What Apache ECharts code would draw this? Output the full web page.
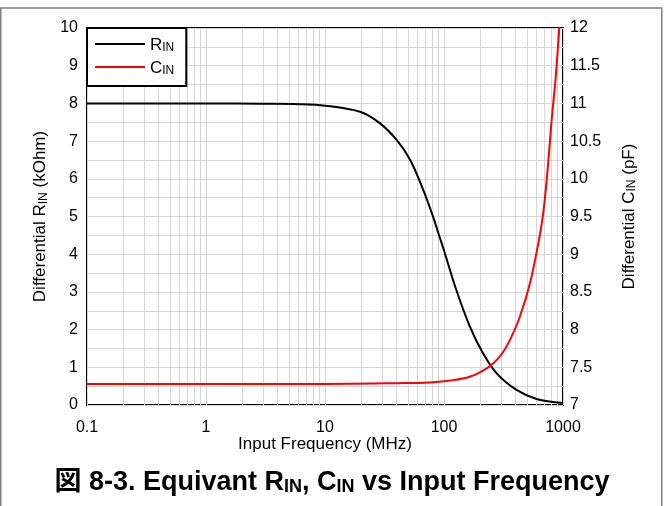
<!DOCTYPE html>
<html>
<head>
<meta charset="utf-8">
<script src="https://cdn.jsdelivr.net/npm/echarts@6/dist/echarts.min.js"></script>
<style>
html,body{margin:0;padding:0;background:#fff;}
#chart{width:664px;height:506px;}
</style>
</head>
<body>
<div id="chart"></div>
<script>
// Frequency (MHz) and values
const freqR = [0.1, 1, 3, 6, 10, 20, 29, 40, 52, 67, 81, 92, 100, 127, 165, 213, 277, 407, 600, 1000];
const rinValues = [8.0, 8.0, 7.99, 7.98, 7.94, 7.77, 7.47, 7.03, 6.5, 5.7, 4.99, 4.45, 4.1, 3.05, 2.08, 1.37, 0.84, 0.4, 0.16, 0.05];
const freqC = [0.1, 1, 10, 40, 76, 120, 165, 210, 259, 310, 358, 434, 527, 620, 683, 750, 803, 870, 931, 1000];
const cinValues = [7.28, 7.28, 7.28, 7.29, 7.30, 7.33, 7.375, 7.45, 7.55, 7.69, 7.86, 8.17, 8.61, 9.14, 9.55, 10.2, 10.78, 11.36, 12.0, 12.7];
const xTickLabels = [0.1, 1, 10, 100, 1000];
const minorFreqs = [0.2,0.3,0.4,0.5,0.6,0.7,0.8,0.9, 2,3,4,5,6,7,8,9, 20,30,40,50,60,70,80,90, 200,300,400,500,600,700,800,900];
const leftTicks = [0,1,2,3,4,5,6,7,8,9,10];
const rightTicks = [7,7.5,8,8.5,9,9.5,10,10.5,11,11.5,12];

const FONT = "'Liberation Sans', Arial, 'Noto Sans CJK JP', sans-serif";
const GRID_COLOR = '#d6d6d6';
const subRich = {
  a: {fontSize: 17, fontFamily: FONT, color: '#000', lineHeight: 20, verticalAlign: 'bottom'},
  s: {fontSize: 12, fontFamily: FONT, color: '#000', lineHeight: 6, verticalAlign: 'bottom'}
};

const chart = echarts.init(document.getElementById('chart'), null, {renderer: 'canvas'});
const option = {
  backgroundColor: '#fff',
  animation: false,
  title: {
    text: '{b|図 8-3. Equivant R}{bs|IN}{b|, C}{bs|IN}{b| vs Input Frequency}',
    left: 'center',
    top: 459,
    textStyle: {
      rich: {
        b: {fontSize: 27, fontWeight: 'bold', fontFamily: FONT, color: '#000', lineHeight: 32, verticalAlign: 'bottom'},
        bs: {fontSize: 18, fontWeight: 'bold', fontFamily: FONT, color: '#000', lineHeight: 16, verticalAlign: 'bottom'}
      }
    }
  },
  graphic: [{
    type: 'rect',
    shape: {x: 0.75, y: 8, width: 661, height: 520},
    style: {fill: 'none', stroke: '#808080', lineWidth: 1.5},
    silent: true, z: 0
  }],
  legend: {
    left: 87, top: 28,
    orient: 'vertical',
    backgroundColor: '#fff',
    borderColor: '#000',
    borderWidth: 2,
    borderRadius: 0,
    padding: [9, 12, 9, 7],
    itemWidth: 50,
    itemHeight: 14,
    itemGap: 6,
    itemStyle: {opacity: 0},
    formatter: function (name) { return name === 'RIN' ? '{a|R}{s|IN}' : '{a|C}{s|IN}'; },
    textStyle: {rich: subRich},
    data: ['RIN', 'CIN']
  },
  grid: {
    left: 87, right: 101, top: 28, bottom: 101,
    show: true, borderColor: '#000', borderWidth: 2, backgroundColor: 'transparent'
  },
  xAxis: {
    type: 'log', logBase: 10, min: 0.1, max: 1000,
    name: 'Input Frequency (MHz)',
    nameLocation: 'middle', nameGap: 31, nameMoveOverlap: false,
    nameTextStyle: {fontSize: 17, fontFamily: FONT, color: '#000'},
    axisLine: {show: false},
    axisTick: {show: false},
    axisLabel: {fontSize: 16, fontFamily: FONT, color: '#000', margin: 15,
      formatter: function (v) { return xTickLabels.indexOf(+v) >= 0 ? String(v) : ''; }},
    splitLine: {show: true, lineStyle: {color: GRID_COLOR, width: 1}}
  },
  yAxis: [{
    type: 'value', min: leftTicks[0], max: leftTicks[leftTicks.length - 1], interval: 1,
    name: '{a|Differential R}{s|IN}{a| (kOhm)}',
    nameLocation: 'middle', nameGap: 37, nameRotate: 90,
    nameTextStyle: {rich: subRich},
    axisLine: {show: false}, axisTick: {show: false},
    axisLabel: {fontSize: 16, fontFamily: FONT, color: '#000', margin: 9},
    splitLine: {show: true, lineStyle: {color: GRID_COLOR, width: 1}},
    minorTick: {show: false, splitNumber: 2},
    minorSplitLine: {show: true, lineStyle: {color: GRID_COLOR, width: 1}}
  }, {
    type: 'value', min: rightTicks[0], max: rightTicks[rightTicks.length - 1], interval: 0.5,
    position: 'right',
    name: '{a|Differential C}{s|IN}{a| (pF)}',
    nameLocation: 'middle', nameGap: 55, nameRotate: 90,
    nameTextStyle: {rich: subRich},
    axisLine: {show: false}, axisTick: {show: false},
    axisLabel: {fontSize: 16, fontFamily: FONT, color: '#000', margin: 7},
    splitLine: {show: false}
  }],
  series: [{
    name: 'RIN', type: 'line', yAxisIndex: 0,
    data: freqR.map((f, i) => [f, rinValues[i]]),
    showSymbol: false, symbol: 'none',
    smooth: 0.35,
    lineStyle: {color: '#000', width: 2},
    itemStyle: {color: '#000'},
    z: 3,
    markLine: {
      silent: true, symbol: ['none', 'none'], z: 1,
      label: {show: false},
      lineStyle: {color: GRID_COLOR, width: 1, type: 'solid'},
      emphasis: {disabled: true},
      data: minorFreqs.map(f => ({xAxis: f}))
    }
  }, {
    name: 'CIN', type: 'line', yAxisIndex: 1,
    data: freqC.map((f, i) => [f, cinValues[i]]),
    showSymbol: false, symbol: 'none',
    smooth: 0.35,
    lineStyle: {color: '#ff0000', width: 2},
    itemStyle: {color: '#ff0000'},
    z: 3
  }]
};
chart.setOption(option);
</script>
</body>
</html>
